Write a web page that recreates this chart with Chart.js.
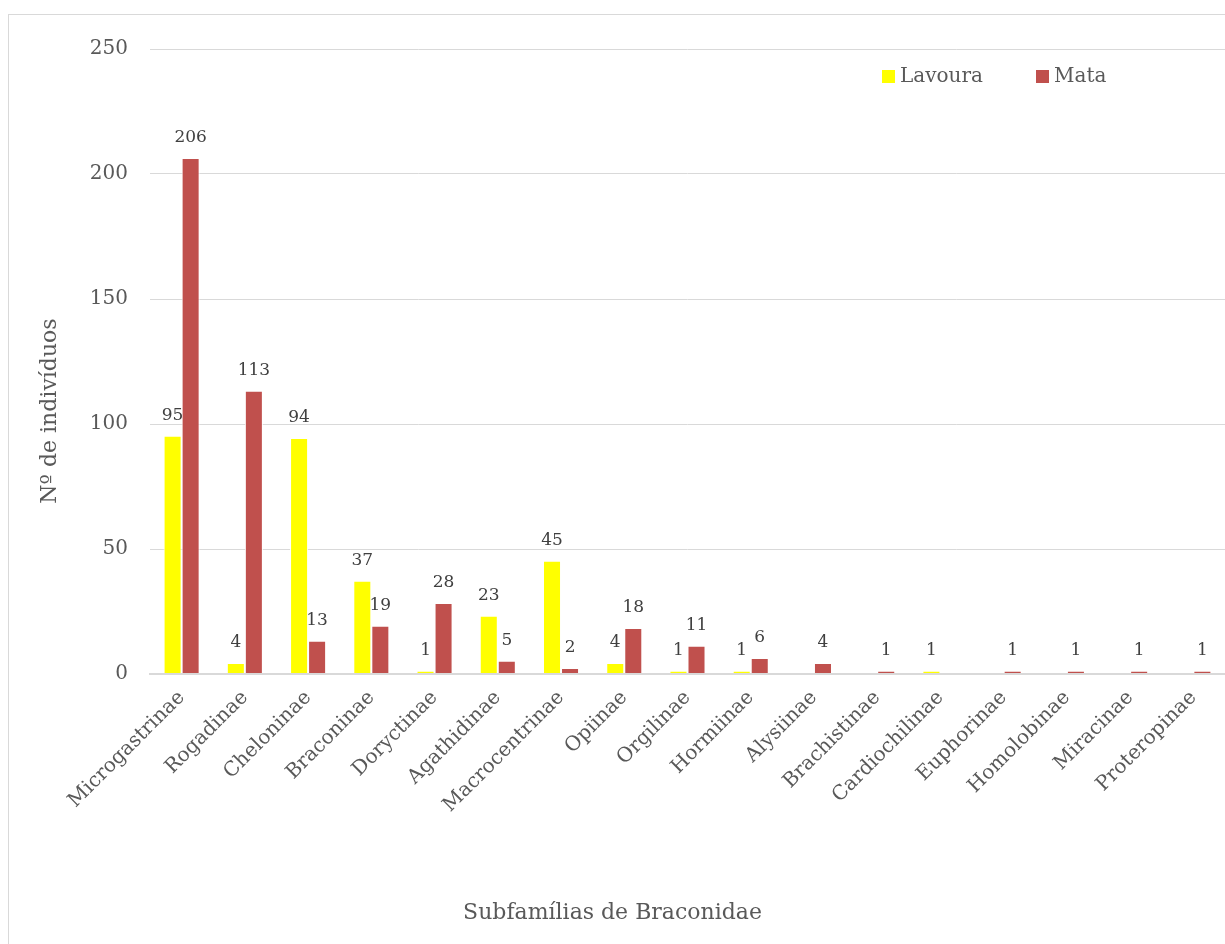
<!DOCTYPE html>
<html>
<head>
<meta charset="utf-8">
<script src="https://cdn.jsdelivr.net/npm/chart.js@4"></script>
<style>
  html, body { margin: 0; padding: 0; background: #fff; }
  #frame { position: absolute; left: 8px; top: 14px; width: 1300px; height: 1000px; border: 1px solid #d9d9d9; }
  #wrap { position: absolute; left: 0; top: 0; width: 1225px; height: 944px; }
</style>
</head>
<body>
<div id="frame"></div>
<div id="wrap"><canvas id="myChart" width="1225" height="944"></canvas></div>
<script>
  const categories = [
    'Microgastrinae', 'Rogadinae', 'Cheloninae', 'Braconinae', 'Doryctinae',
    'Agathidinae', 'Macrocentrinae', 'Opiinae', 'Orgilinae', 'Hormiinae',
    'Alysiinae', 'Brachistinae', 'Cardiochilinae', 'Euphorinae', 'Homolobinae',
    'Miracinae', 'Proteropinae'
  ];
  const lavoura = [95, 4, 94, 37, 1, 23, 45, 4, 1, 1, null, null, 1, null, null, null, null];
  const mata = [206, 113, 13, 19, 28, 5, 2, 18, 11, 6, 4, 1, null, 1, 1, 1, 1];
  const yMax = 250;
  const yStep = 50;

  const fontFamily = "'DejaVu Serif', 'Liberation Serif', serif";
  const textColor = '#595959';

  // value labels above each bar
  const valueLabels = {
    id: 'valueLabels',
    afterDatasetsDraw(chart) {
      const ctx = chart.ctx;
      ctx.save();
      ctx.font = '17px ' + fontFamily;
      ctx.fillStyle = '#404040';
      ctx.textAlign = 'center';
      ctx.textBaseline = 'middle';
      chart.data.datasets.forEach((ds, i) => {
        chart.getDatasetMeta(i).data.forEach((bar, j) => {
          if (ds.data[j] == null) return;
          ctx.fillText(ds.data[j], bar.x, bar.y - 21);
        });
      });
      ctx.restore();
    }
  };

  // legend inside the plot (top right) and the y axis title
  const extras = {
    id: 'extras',
    afterDraw(chart) {
      const ctx = chart.ctx;
      const area = chart.chartArea;
      let x = area.right - 343;
      const y = area.top + 28;
      ctx.save();
      ctx.font = '20px ' + fontFamily;
      ctx.textBaseline = 'middle';
      ctx.textAlign = 'left';
      chart.data.datasets.forEach((ds) => {
        ctx.fillStyle = ds.backgroundColor;
        ctx.fillRect(x, y - 7, 13, 13);
        ctx.fillStyle = textColor;
        ctx.fillText(ds.label, x + 18, y);
        x += 154;
      });

      ctx.translate(50, 411);
      ctx.rotate(-Math.PI / 2);
      ctx.textAlign = 'center';
      ctx.font = '22px ' + fontFamily;
      ctx.fillText('Nº de indivíduos', 0, 0);
      ctx.restore();
    }
  };

  const sideBorder = { left: 1, right: 1, top: 0, bottom: 0 };

  const data = {
    labels: categories,
    datasets: [{
      label: 'Lavoura',
      backgroundColor: '#FFFF00',
      borderColor: '#ffffff',
      borderWidth: sideBorder,
      data: lavoura,
    }, {
      label: 'Mata',
      backgroundColor: '#C0504D',
      borderColor: '#ffffff',
      borderWidth: sideBorder,
      data: mata,
    }]
  };

  const config = {
    type: 'bar',
    data: data,
    options: {
      responsive: false,
      animation: false,
      layout: { padding: { top: 49, right: 0, left: 0, bottom: 0 } },
      datasets: {
        bar: { barPercentage: 1, categoryPercentage: 0.57 }
      },
      plugins: {
        legend: { display: false },
        tooltip: { enabled: false },
        title: {
          display: true,
          position: 'bottom',
          text: 'Subfamílias de Braconidae',
          color: textColor,
          font: { family: fontFamily, size: 22, weight: 'normal' },
          padding: { top: 0, bottom: 18 }
        }
      },
      scales: {
        x: {
          grid: { display: false },
          border: { color: '#d9d9d9', width: 2, z: 1 },
          ticks: {
            color: textColor,
            font: { family: fontFamily, size: 20 },
            maxRotation: 45,
            minRotation: 45,
            autoSkip: false,
            padding: 4
          },
          afterFit(scale) { scale.height = 944 - 674 - 44.4; }
        },
        y: {
          min: 0,
          max: yMax,
          border: { display: false },
          grid: { color: '#d9d9d9', drawTicks: false },
          ticks: {
            stepSize: yStep,
            color: textColor,
            font: { family: fontFamily, size: 20 },
            padding: 22
          },
          afterFit(scale) { scale.width = 150; }
        }
      }
    },
    plugins: [valueLabels, extras]
  };

  const myChart = new Chart(
    document.getElementById('myChart'),
    config
  );
</script>
</body>
</html>
